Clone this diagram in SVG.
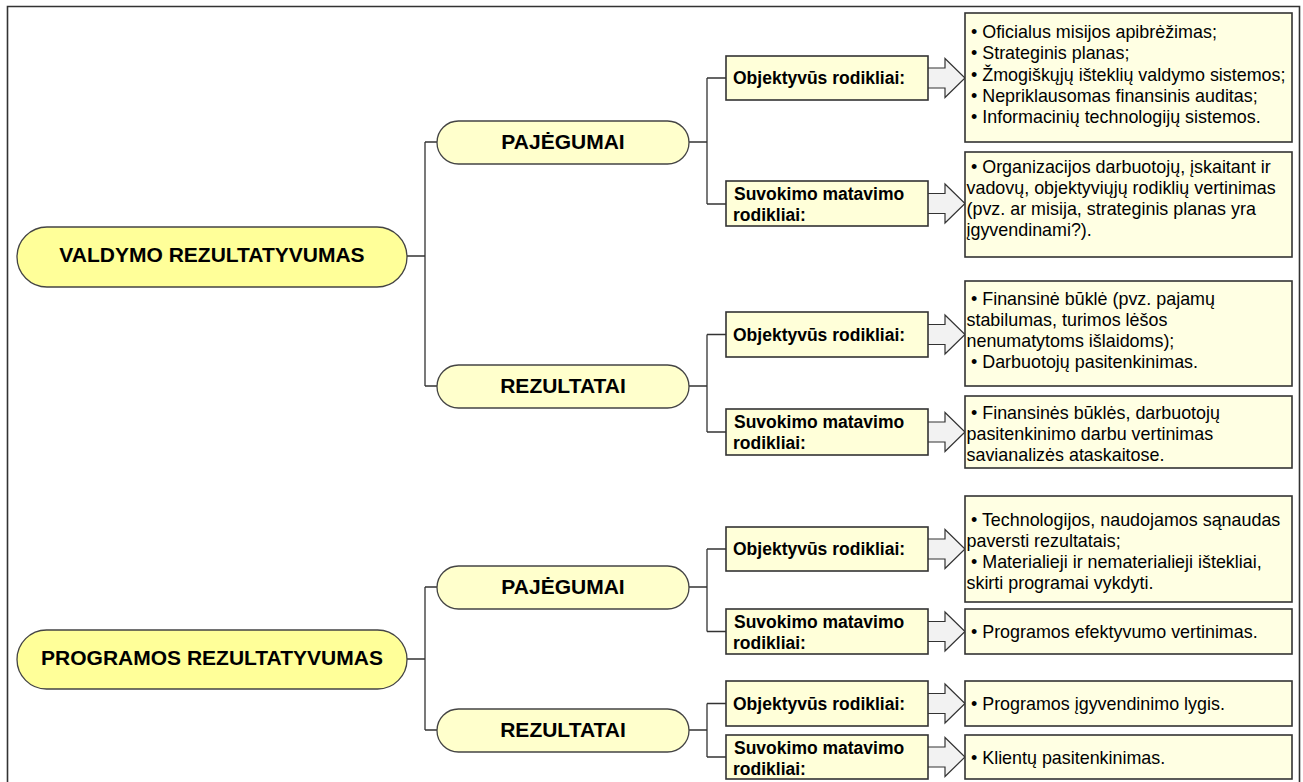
<svg xmlns="http://www.w3.org/2000/svg" width="1303" height="782" viewBox="0 0 1303 782">
  <style>
    .frame{fill:none;stroke:#333;stroke-width:1.6}
    .main{fill:#FFFF99;stroke:#444;stroke-width:1.3}
    .sub{fill:#FFFFCC;stroke:#444;stroke-width:1.3}
    .lbl{fill:#FFFFD9;stroke:#333;stroke-width:1.6}
    .det{fill:#FFFFE3;stroke:#333;stroke-width:1.6}
    .arrow{fill:#F2F2F2;stroke:#333;stroke-width:1.2}
    .conn{fill:none;stroke:#333;stroke-width:1.3}
    text{font-family:"Liberation Sans",Arial,sans-serif;fill:#000}
    .h{font-weight:bold;font-size:21px;text-anchor:middle}
    .l{font-weight:bold;font-size:17.5px}
    .d{font-size:17.9px}
  </style>
  <defs>
    <path id="arr" class="arrow" d="M928,-10 H945 V-19.5 L965,0 L945,19.5 V10 H928"/>
  </defs>
  <rect width="1303" height="782" fill="#fff"/>
  <path class="frame" d="M7.5,790 V6.5 H1299.5 V790"/>

  <g id="connectors">
    <!-- tree lines -->
    <path class="conn" d="M407,256 H425 M425,142 V386 M425,142 H437 M425,386 H437"/>
    <path class="conn" d="M407,659 H425 M425,587 V730 M425,587 H437 M425,730 H437"/>
    <path class="conn" d="M689,142 H707 M707,78 V204 M707,78 H726 M707,204 H726"/>
    <path class="conn" d="M689,386 H707 M707,334.5 V432 M707,334.5 H726 M707,432 H726"/>
    <path class="conn" d="M689,587 H707 M707,549 V631.5 M707,549 H726 M707,631.5 H726"/>
    <path class="conn" d="M689,730 H707 M707,703.5 V757 M707,703.5 H726 M707,757 H726"/>
    <!-- block arrows -->
    <use href="#arr" transform="translate(0,78)"/>
    <use href="#arr" transform="translate(0,203.5)"/>
    <use href="#arr" transform="translate(0,334.5)"/>
    <use href="#arr" transform="translate(0,432)"/>
    <use href="#arr" transform="translate(0,549)"/>
    <use href="#arr" transform="translate(0,631.5)"/>
    <use href="#arr" transform="translate(0,703.5)"/>
    <use href="#arr" transform="translate(0,757)"/>
  </g>

  <!-- top-level nodes -->
  <g id="valdymo">
    <rect class="main" x="17" y="227" width="390" height="60" rx="30"/>
    <text class="h" x="212" y="262">VALDYMO REZULTATYVUMAS</text>
  </g>
  <g id="programos">
    <rect class="main" x="17" y="630" width="390" height="59" rx="29.5"/>
    <text class="h" x="212" y="664.5">PROGRAMOS REZULTATYVUMAS</text>
  </g>

  <!-- second level -->
  <g id="v-pajegumai">
    <rect class="sub" x="437" y="121" width="252" height="43" rx="21.5"/>
    <text class="h" x="563" y="149">PAJĖGUMAI</text>
  </g>
  <g id="v-rezultatai">
    <rect class="sub" x="437" y="365" width="252" height="43" rx="21.5"/>
    <text class="h" x="563" y="393">REZULTATAI</text>
  </g>
  <g id="p-pajegumai">
    <rect class="sub" x="437" y="566" width="252" height="43" rx="21.5"/>
    <text class="h" x="563" y="594">PAJĖGUMAI</text>
  </g>
  <g id="p-rezultatai">
    <rect class="sub" x="437" y="709" width="252" height="43" rx="21.5"/>
    <text class="h" x="563" y="737">REZULTATAI</text>
  </g>

  <!-- indicator labels -->
  <g id="l1"><rect class="lbl" x="726" y="56" width="202" height="44"/><text class="l" x="733" y="84">Objektyvūs rodikliai:</text></g>
  <g id="l2"><rect class="lbl" x="726" y="181" width="202" height="45"/><text class="l" x="734" y="199.5">Suvokimo matavimo</text><text class="l" x="733" y="221">rodikliai:</text></g>
  <g id="l3"><rect class="lbl" x="726" y="312" width="202" height="45"/><text class="l" x="733" y="340.5">Objektyvūs rodikliai:</text></g>
  <g id="l4"><rect class="lbl" x="726" y="409" width="202" height="46"/><text class="l" x="734" y="427.5">Suvokimo matavimo</text><text class="l" x="733" y="449">rodikliai:</text></g>
  <g id="l5"><rect class="lbl" x="726" y="527" width="202" height="44"/><text class="l" x="733" y="555">Objektyvūs rodikliai:</text></g>
  <g id="l6"><rect class="lbl" x="726" y="609" width="202" height="45"/><text class="l" x="734" y="627.5">Suvokimo matavimo</text><text class="l" x="733" y="649">rodikliai:</text></g>
  <g id="l7"><rect class="lbl" x="726" y="681" width="202" height="45"/><text class="l" x="733" y="709.5">Objektyvūs rodikliai:</text></g>
  <g id="l8"><rect class="lbl" x="726" y="735" width="202" height="44"/><text class="l" x="734" y="753.5">Suvokimo matavimo</text><text class="l" x="733" y="775">rodikliai:</text></g>

  <!-- detail boxes -->
  <g id="d1">
    <rect class="det" x="965" y="13" width="327" height="129"/>
    <text class="d" x="971" y="38">• Oficialus misijos apibrėžimas;</text>
    <text class="d" x="971" y="59">• Strateginis planas;</text>
    <text class="d" x="971" y="80.5">• Žmogiškųjų išteklių valdymo sistemos;</text>
    <text class="d" x="971" y="102">• Nepriklausomas finansinis auditas;</text>
    <text class="d" x="971" y="123">• Informacinių technologijų sistemos.</text>
  </g>
  <g id="d2">
    <rect class="det" x="965" y="152" width="327" height="105"/>
    <text class="d" x="971" y="172.5">• Organizacijos darbuotojų, įskaitant ir</text>
    <text class="d" x="966.5" y="193.5">vadovų, objektyviųjų rodiklių vertinimas</text>
    <text class="d" x="966.5" y="214.5">(pvz. ar misija, strateginis planas yra</text>
    <text class="d" x="966.5" y="235.5">įgyvendinami?).</text>
  </g>
  <g id="d3">
    <rect class="det" x="965" y="281" width="327" height="105"/>
    <text class="d" x="971" y="304.5">• Finansinė būklė (pvz. pajamų</text>
    <text class="d" x="966.5" y="325.5">stabilumas, turimos lėšos</text>
    <text class="d" x="966.5" y="346.5">nenumatytoms išlaidoms);</text>
    <text class="d" x="971" y="367.5">• Darbuotojų pasitenkinimas.</text>
  </g>
  <g id="d4">
    <rect class="det" x="965" y="396" width="327" height="72"/>
    <text class="d" x="971" y="418.5">• Finansinės būklės, darbuotojų</text>
    <text class="d" x="966.5" y="439.5">pasitenkinimo darbu vertinimas</text>
    <text class="d" x="966.5" y="460.5">savianalizės ataskaitose.</text>
  </g>
  <g id="d5">
    <rect class="det" x="965" y="496" width="327" height="106"/>
    <text class="d" x="971" y="525.5">• Technologijos, naudojamos sąnaudas</text>
    <text class="d" x="966.5" y="546.5">paversti rezultatais;</text>
    <text class="d" x="971" y="567.5">• Materialieji ir nematerialieji ištekliai,</text>
    <text class="d" x="966.5" y="588.5">skirti programai vykdyti.</text>
  </g>
  <g id="d6">
    <rect class="det" x="965" y="609" width="327" height="45"/>
    <text class="d" x="971" y="638">• Programos efektyvumo vertinimas.</text>
  </g>
  <g id="d7">
    <rect class="det" x="965" y="681" width="327" height="45"/>
    <text class="d" x="971" y="710">• Programos įgyvendinimo lygis.</text>
  </g>
  <g id="d8">
    <rect class="det" x="965" y="735" width="327" height="44"/>
    <text class="d" x="971" y="763.5">• Klientų pasitenkinimas.</text>
  </g>
</svg>
